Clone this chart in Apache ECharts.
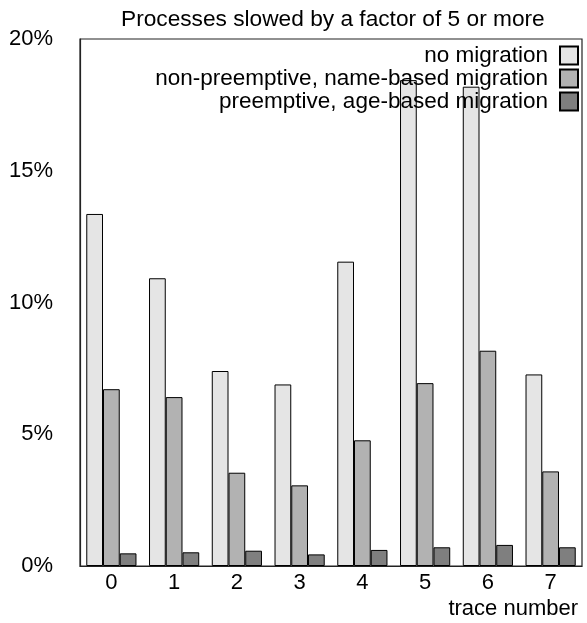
<!DOCTYPE html>
<html>
<head>
<meta charset="utf-8">
<script src="https://cdn.jsdelivr.net/npm/echarts@6/dist/echarts.min.js"></script>
<style>html,body{margin:0;padding:0;background:#fff}#c{width:587px;height:623px}</style>
</head>
<body>
<div id="c"></div>
<script>
const categories = ['0', '1', '2', '3', '4', '5', '6', '7'];
const seriesNames = ['no migration', 'non-preemptive, name-based migration', 'preemptive, age-based migration'];
const noMigration = [13.36, 10.92, 7.40, 6.89, 11.55, 18.44, 18.19, 7.27];
const nonPreemptive = [6.71, 6.41, 3.54, 3.06, 4.77, 6.94, 8.17, 3.59];
const preemptive = [0.48, 0.52, 0.58, 0.44, 0.61, 0.71, 0.80, 0.71];
const yTicks = [0, 5, 10, 15, 20];

const FONT = '"Liberation Sans", Arial, Helvetica, sans-serif';
const colors = ['#e5e5e5', '#b2b2b2', '#7f7f7f'];
const values = [noMigration, nonPreemptive, preemptive];

const chart = echarts.init(document.getElementById('c'), null, {renderer: 'canvas'});
chart.setOption({
  animation: false,
  backgroundColor: '#fff',
  textStyle: {fontFamily: FONT, color: '#000'},
  title: {
    text: 'Processes slowed by a factor of 5 or more',
    left: 121, top: 8, padding: 0,
    textStyle: {fontFamily: FONT, fontSize: 22.7, fontWeight: 'normal', color: '#000'}
  },
  legend: {
    orient: 'vertical', right: 8, top: 44, align: 'right',
    itemWidth: 18, itemHeight: 18, itemGap: 0, padding: 0,
    icon: 'rect',
    textStyle: {fontFamily: FONT, fontSize: 22.5, color: '#000', lineHeight: 22, padding: [0, 7, 0, 0]},
    data: seriesNames
  },
  grid: {left: 80, right: 5, top: 39, bottom: 57, show: true, borderColor: '#222', borderWidth: 1.2, containLabel: false},
  xAxis: {
    type: 'category', data: categories,
    axisLine: {lineStyle: {color: '#222', width: 1.2}},
    axisTick: {show: false},
    axisLabel: {fontFamily: FONT, fontSize: 22, color: '#000', margin: 6},
    name: 'trace number', nameLocation: 'end', nameGap: 0,
    nameTextStyle: {fontFamily: FONT, fontSize: 22, color: '#000', align: 'right', verticalAlign: 'top', padding: [32, 4, 0, 0]}
  },
  yAxis: {
    type: 'value', min: 0, max: 20, interval: 5,
    axisLine: {show: true, lineStyle: {color: '#222', width: 1.2}},
    axisTick: {show: false},
    splitLine: {show: false},
    axisLabel: {fontFamily: FONT, fontSize: 22, color: '#000', margin: 27,
      formatter: v => yTicks.includes(v) ? v + '%' : ''}
  },
  series: seriesNames.map((n, i) => ({
    name: n, type: 'bar', data: values[i],
    barGap: '0%', barCategoryGap: '20%',
    itemStyle: {color: colors[i], borderColor: '#000', borderWidth: 1}
  }))
});
</script>
</body>
</html>
